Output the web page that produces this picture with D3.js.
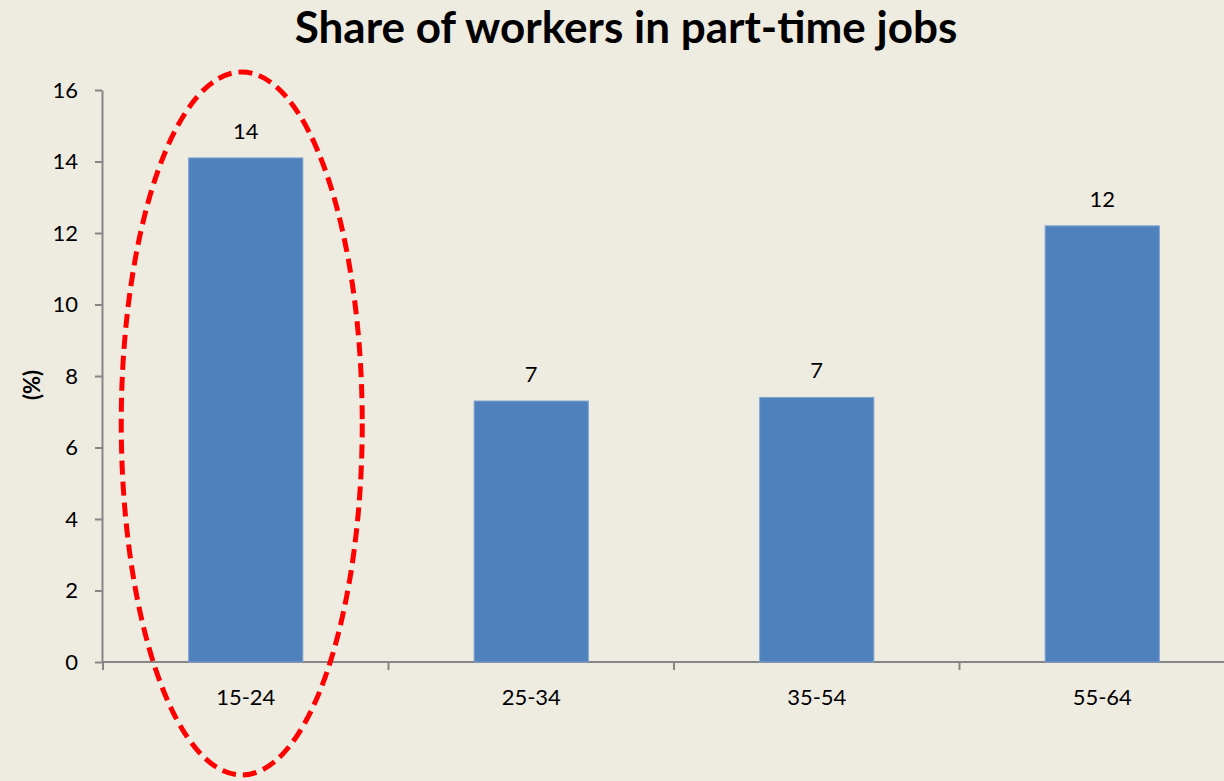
<!DOCTYPE html>
<html>
<head>
<meta charset="utf-8">
<script src="https://cdn.jsdelivr.net/npm/d3@7"></script>
<style>
  body { margin: 0; background: #eeebe0; }
  svg { display: block; }
</style>
</head>
<body>
<svg id="chart" width="1224" height="781"></svg>
<script>
// data
var categories = ["15-24", "25-34", "35-54", "55-64"];
var shares = [14.1, 7.3, 7.4, 12.2];
var labels = ["14", "7", "7", "12"];
var yTicks = [0, 2, 4, 6, 8, 10, 12, 14, 16];
var highlight = "15-24";

var width = 1224, height = 781;
var margin = { top: 90, left: 102, bottom: 119 };
var plotRight = 1245;

var svg = d3.select("#chart");
svg.append("rect").attr("width", width).attr("height", height).attr("fill", "#eeebe0");

var font = "Lato, Carlito, 'Open Sans', sans-serif";

// SCALES//////////////////////
var x = d3.scaleBand()
  .domain(categories)
  .range([103, plotRight])
  .paddingInner(0.6)
  .paddingOuter(0.3);

var y = d3.scaleLinear()
  .domain([0, 16])
  .range([height - margin.bottom, margin.top]);

// title
svg.append("text")
  .attr("x", 626).attr("y", 43)
  .attr("text-anchor", "middle")
  .attr("font-family", font)
  .attr("font-weight", "bold")
  .attr("font-size", 44)
  .attr("fill", "#000")
  .text("Share of workers in part-time jobs");

// y axis
var yAxis = svg.append("g")
  .attr("transform", "translate(" + margin.left + ",0)")
  .call(d3.axisLeft(y).tickValues(yTicks).tickSize(7).tickPadding(17).tickSizeOuter(0));
yAxis.select(".domain").attr("stroke", "#868686").attr("stroke-width", 2);
yAxis.selectAll(".tick line").attr("stroke", "#868686").attr("stroke-width", 2);
yAxis.selectAll(".tick text")
  .attr("font-family", font).attr("font-size", 22).attr("fill", "#000");

// x axis
var xAxis = svg.append("g")
  .attr("transform", "translate(0," + y(0) + ")");
xAxis.append("line")
  .attr("x1", margin.left).attr("x2", width)
  .attr("stroke", "#868686").attr("stroke-width", 2);
var step = x.step();
var bounds = d3.range(categories.length + 1).map(function (i) {
  return x.range()[0] + i * step;
});
xAxis.selectAll(".xtick").data(bounds).enter().append("line")
  .attr("x1", function (d) { return d; }).attr("x2", function (d) { return d; })
  .attr("y1", 0).attr("y2", 8)
  .attr("stroke", "#868686").attr("stroke-width", 2);
xAxis.selectAll(".xlabel").data(categories).enter().append("text")
  .attr("x", function (d) { return x(d) + x.bandwidth() / 2; })
  .attr("y", 43)
  .attr("text-anchor", "middle")
  .attr("font-family", font).attr("font-size", 22).attr("fill", "#000")
  .text(function (d) { return d; });

// y axis title
svg.append("text")
  .attr("transform", "translate(40,385) rotate(-90)")
  .attr("text-anchor", "middle")
  .attr("font-family", font).attr("font-weight", "bold").attr("font-size", 22)
  .text("(%)");

// bars
svg.selectAll(".bar").data(categories).enter().append("rect")
  .attr("x", function (d) { return x(d); })
  .attr("y", function (d, i) { return y(shares[i]); })
  .attr("width", x.bandwidth())
  .attr("height", function (d, i) { return y(0) - y(shares[i]); })
  .attr("fill", "#4f81bd")
  .attr("stroke", "#7fa3d2")
  .attr("stroke-width", 1);

// value labels
svg.selectAll(".val").data(categories).enter().append("text")
  .attr("x", function (d) { return x(d) + x.bandwidth() / 2; })
  .attr("y", function (d, i) { return y(shares[i]) - 19; })
  .attr("text-anchor", "middle")
  .attr("font-family", font).attr("font-size", 22).attr("fill", "#000")
  .text(function (d, i) { return labels[i]; });

// highlight ellipse round the young group
svg.append("ellipse")
  .attr("cx", x(highlight) + x.bandwidth() / 2 - 4)
  .attr("cy", 423.5)
  .attr("rx", 120.5)
  .attr("ry", 351.5)
  .attr("fill", "none")
  .attr("stroke", "#ff0000")
  .attr("stroke-width", 5)
  .attr("stroke-dasharray", "14 7");
</script>
</body>
</html>
